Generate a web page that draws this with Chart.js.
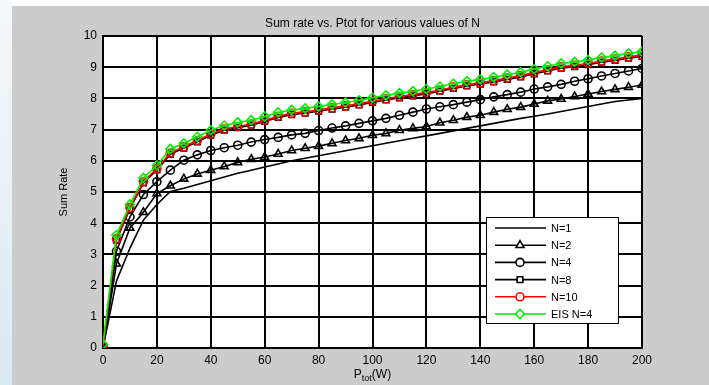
<!DOCTYPE html>
<html>
<head>
<meta charset="utf-8">
<script src="https://cdn.jsdelivr.net/npm/chart.js@4.4.1/dist/chart.umd.min.js"></script>
<style>
  html, body { margin: 0; padding: 0; }
  body { width: 709px; height: 385px; background: #fff; position: relative; overflow: hidden; }
  .strip { position: absolute; left: 0; top: 0; width: 12px; height: 385px; background: linear-gradient(#f4f8fb, #d9e9f3); }
  .panel { position: absolute; left: 12px; top: 6px; width: 697px; height: 379px; background: #cccccc; }
</style>
</head>
<body>
<div class="strip"></div>
<div class="panel"><canvas id="c" width="697" height="379"></canvas></div>
<script>
const power = [0,5,10,15,20,25,30,35,40,45,50,55,60,65,70,75,80,85,90,95,100,
  105,110,115,120,125,130,135,140,145,150,155,160,165,170,175,180,185,190,195,200];

const n1 = [0,2.15,3.2,4.1,4.6,5.02,5.12,5.24,5.36,5.48,5.6,5.7,5.8,5.9,6.0,6.08,6.16,6.24,6.32,6.4,6.48,
  6.56,6.64,6.72,6.8,6.88,6.96,7.04,7.12,7.2,7.28,7.36,7.43,7.5,7.58,7.66,7.74,7.82,7.9,7.95,8.0];
const n2 = [0,2.7,3.85,4.35,4.95,5.2,5.42,5.58,5.7,5.82,5.95,6.05,6.12,6.22,6.33,6.4,6.47,6.56,6.65,6.72,6.82,
  6.88,6.98,7.04,7.1,7.22,7.3,7.4,7.46,7.56,7.65,7.72,7.82,7.92,7.98,8.06,8.14,8.22,8.29,8.36,8.43];
const n4 = [0,3.1,4.2,4.92,5.33,5.7,6.02,6.19,6.33,6.42,6.5,6.6,6.68,6.75,6.83,6.88,6.97,7.05,7.12,7.2,7.28,
  7.36,7.46,7.56,7.66,7.73,7.8,7.88,7.96,8.05,8.12,8.2,8.3,8.37,8.45,8.55,8.63,8.72,8.8,8.88,8.96];
const n8 = [0.03,3.46,4.46,5.29,5.71,6.21,6.41,6.61,6.82,6.98,7.06,7.14,7.26,7.39,7.48,7.53,7.59,7.66,7.72,7.79,7.87,
  7.95,8.02,8.08,8.15,8.23,8.32,8.4,8.46,8.53,8.61,8.69,8.79,8.88,8.97,9.02,9.08,9.16,9.22,9.29,9.35];
const n10 = [0.05,3.5,4.5,5.33,5.75,6.25,6.45,6.65,6.86,7.02,7.1,7.18,7.3,7.43,7.52,7.57,7.63,7.7,7.76,7.83,7.91,
  7.99,8.06,8.12,8.19,8.27,8.36,8.44,8.5,8.57,8.65,8.73,8.83,8.92,9.01,9.06,9.12,9.2,9.26,9.33,9.39];
const eis4 = [0.12,3.62,4.6,5.45,5.85,6.38,6.56,6.77,6.98,7.13,7.23,7.3,7.42,7.55,7.63,7.68,7.74,7.81,7.87,7.94,8.02,
  8.1,8.17,8.23,8.3,8.38,8.47,8.55,8.61,8.68,8.76,8.84,8.94,9.03,9.12,9.17,9.23,9.31,9.37,9.44,9.5];

const labels = ['N=1', 'N=2', 'N=4', 'N=8', 'N=10', 'EIS N=4'];
const FONT = '"Liberation Sans", Arial, sans-serif';

const pts = ys => ys.map((y, i) => ({ x: power[i], y }));

function series(label, ys, color, style, radius, order) {
  return {
    label, data: pts(ys), order,
    borderColor: color, borderWidth: 1.6,
    pointStyle: style || false,
    pointRadius: style ? radius : 0,
    pointBorderColor: color, pointBackgroundColor: 'rgba(0,0,0,0)',
    pointBorderWidth: 1.6, tension: 0
  };
}

const datasets = [
  series(labels[0], n1, '#000', null, 0, 5),
  series(labels[1], n2, '#000', 'triangle', 4.5, 4),
  series(labels[2], n4, '#000', 'circle', 4, 3),
  series(labels[3], n8, '#000', 'rect', 4, 2),
  series(labels[4], n10, '#ff0000', 'circle', 4, 1),
  series(labels[5], eis4, '#00ee00', 'rectRot', 4.5, 0)
];

const decor = {
  id: 'decor',
  beforeDraw(chart) {
    const { ctx, chartArea: a } = chart;
    ctx.save();
    ctx.fillStyle = '#fff';
    ctx.fillRect(a.left, a.top, a.right - a.left, a.bottom - a.top);
    ctx.restore();
  },
  afterDraw(chart) {
    const { ctx, chartArea: a } = chart;
    ctx.save();
    ctx.fillStyle = '#000';
    ctx.textBaseline = 'middle';
    // title
    ctx.font = '12px ' + FONT;
    ctx.textAlign = 'center';
    ctx.fillText('Sum rate vs. Ptot for various values of N', (a.left + a.right) / 2, 18);
    // x title with subscript
    const cx = (a.left + a.right) / 2;
    const y0 = 369;
    ctx.font = '12px ' + FONT;
    const wP = ctx.measureText('P').width;
    const wW = ctx.measureText('(W)').width;
    ctx.font = '9px ' + FONT;
    const wT = ctx.measureText('tot').width;
    let x = cx - (wP + wT + wW) / 2;
    ctx.textAlign = 'left';
    ctx.font = '12px ' + FONT;
    ctx.fillText('P', x, y0);
    ctx.font = '9px ' + FONT;
    ctx.fillText('tot', x + wP, y0 + 4);
    ctx.font = '12px ' + FONT;
    ctx.fillText('(W)', x + wP + wT, y0);
    // y title
    ctx.save();
    ctx.translate(52, (a.top + a.bottom) / 2);
    ctx.rotate(-Math.PI / 2);
    ctx.textAlign = 'center';
    ctx.font = '11px ' + FONT;
    ctx.fillText('Sum Rate', 0, 0);
    ctx.restore();
    // legend box
    const bx = 474, by = 211, bw = 132, bh = 106;
    ctx.fillStyle = '#fff';
    ctx.fillRect(bx, by, bw, bh);
    ctx.strokeStyle = '#000';
    ctx.lineWidth = 1;
    ctx.strokeRect(bx + 0.5, by + 0.5, bw, bh);
    chart.data.datasets.forEach((ds, i) => {
      const ly = by + 11 + i * 17.2;
      ctx.strokeStyle = ds.borderColor;
      ctx.lineWidth = 1.6;
      ctx.beginPath();
      ctx.moveTo(bx + 9, ly);
      ctx.lineTo(bx + 60, ly);
      ctx.stroke();
      if (ds.pointStyle) {
        ctx.fillStyle = '#fff';
        ctx.strokeStyle = ds.borderColor;
        Chart.helpers.drawPoint(ctx, {
          pointStyle: ds.pointStyle, radius: ds.pointRadius, rotation: 0,
          borderWidth: 1.6
        }, bx + 34, ly);
      }
      ctx.fillStyle = '#000';
      ctx.font = '11px ' + FONT;
      ctx.textAlign = 'left';
      ctx.fillText(ds.label, bx + 65, ly + 1);
    });
    ctx.restore();
  }
};

new Chart(document.getElementById('c'), {
  type: 'line',
  data: { datasets },
  plugins: [decor],
  options: {
    responsive: false,
    animation: false,
    events: [],
    layout: { padding: { left: 51, top: 30, right: 67, bottom: 17 } },
    plugins: { legend: { display: false }, tooltip: { enabled: false } },
    scales: {
      x: {
        type: 'linear', min: 0, max: 200,
        afterFit: s => { s.height = 20; },
        border: { color: '#000', width: 2 },
        grid: { color: '#000', lineWidth: 2, drawTicks: false },
        ticks: { stepSize: 20, color: '#000', padding: 5, maxRotation: 0, font: { family: FONT, size: 12 } }
      },
      y: {
        min: 0, max: 10,
        afterFit: s => { s.width = 40; },
        border: { color: '#000', width: 2 },
        grid: { color: '#000', lineWidth: 2, drawTicks: false },
        ticks: { stepSize: 1, color: '#000', padding: 6, font: { family: FONT, size: 12 } }
      }
    }
  }
});
</script>
</body>
</html>
